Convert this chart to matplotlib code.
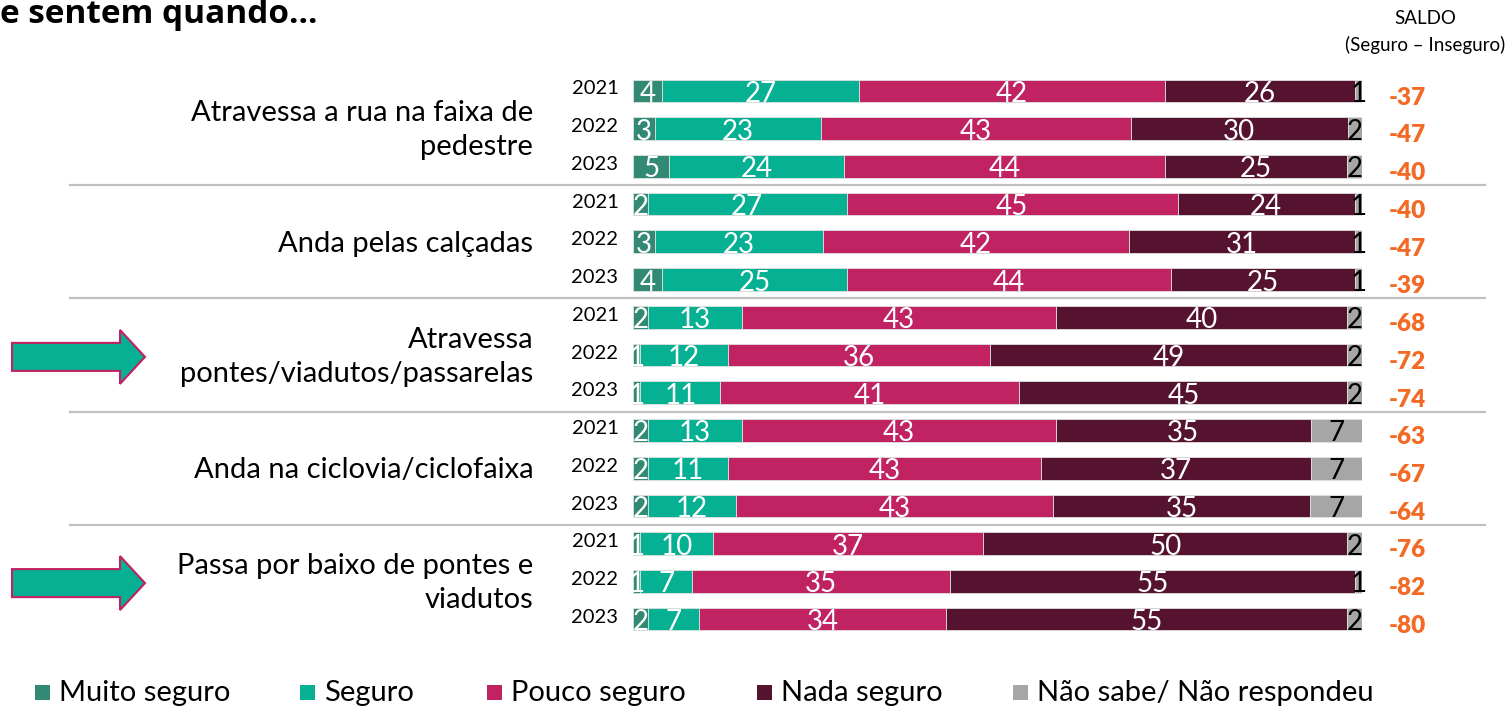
import matplotlib.pyplot as plt
import matplotlib.transforms as mtransforms
from matplotlib.patches import Polygon, Rectangle

plt.rcParams['font.family'] = ['Lato', 'DejaVu Sans']

# data
categories = ["Atravessa a rua na faixa de\npedestre",
              "Anda pelas calçadas",
              "Atravessa\npontes/viadutos/passarelas",
              "Anda na ciclovia/ciclofaixa",
              "Passa por baixo de pontes e\nviadutos"]
years = ["2021", "2022", "2023"]
series = ["Muito seguro", "Seguro", "Pouco seguro", "Nada seguro",
          "Não sabe/ Não respondeu"]
muito_seguro = [4, 3, 5, 2, 3, 4, 2, 1, 1, 2, 2, 2, 1, 1, 2]
seguro = [27, 23, 24, 27, 23, 25, 13, 12, 11, 13, 11, 12, 10, 7, 7]
pouco_seguro = [42, 43, 44, 45, 42, 44, 43, 36, 41, 43, 43, 43, 37, 35, 34]
nada_seguro = [26, 30, 25, 24, 31, 25, 40, 49, 45, 35, 37, 35, 50, 55, 55]
nao_sabe = [1, 2, 2, 1, 1, 1, 2, 2, 2, 7, 7, 7, 2, 1, 2]
saldo = [-37, -47, -40, -40, -47, -39, -68, -72, -74, -63, -67, -64,
         -76, -82, -80]
highlighted = [2, 4]  # groups marked with an arrow

colors = ['#338A74', '#05B093', '#C02262', '#561330', '#A6A6A6']
label_colors = ['white', 'white', 'white', 'white', 'black']
W, H = 1507, 708

fig = plt.figure(figsize=(W / 100, H / 100), dpi=100)
ax = fig.add_axes([633 / W, 1 - 638 / H, 729 / W, (638 - 72) / H])
ax.set_xlim(0, 100)
ax.set_ylim(14.5, -0.5)
ax.axis('off')

all_series = [muito_seguro, seguro, pouco_seguro, nada_seguro, nao_sabe]
rows = list(range(len(saldo)))
totals = [sum(s[r] for s in all_series) for r in rows]

# 100% stacked bars, labelled with the rounded percentages
left = [0] * len(rows)
for vals, col, lcol in zip(all_series, colors, label_colors):
    widths = [v * 100 / t for v, t in zip(vals, totals)]
    ax.barh(rows, widths, left=left, height=0.6, color=col,
            edgecolor='#E0E0E0', linewidth=0.6)
    for r in rows:
        ax.text(left[r] + widths[r] / 2, r + 0.08, str(vals[r]),
                ha='center', va='center', color=lcol, fontsize=20)
    left = [a + b for a, b in zip(left, widths)]

for r in rows:
    ax.text(-2, r - 0.05, years[r % 3], ha='right', va='center',
            fontsize=14.5)
    ax.text(106.2, r + 0.18, str(saldo[r]), ha='center', va='center',
            fontsize=17.5, fontweight='heavy', color='#F26A25')

for g, cat in enumerate(categories):
    ax.text(-13.7, 3 * g + 1.05, cat, ha='right', va='center', fontsize=21,
            linespacing=1.38, clip_on=False)

# separators between groups
trans = mtransforms.blended_transform_factory(fig.transFigure, ax.transData)
for g in range(1, len(categories)):
    ax.plot([70 / W, 1485 / W], [3 * g - 0.5] * 2, transform=trans,
            color='#C0C0C0', lw=1.6, clip_on=False)

# arrows
for g in highlighted:
    yc = 91 + 37.7 * (3 * g + 1) + 2
    pts = [(12, yc - 14), (120, yc - 14), (120, yc - 27), (145, yc),
           (120, yc + 27), (120, yc + 14), (12, yc + 14)]
    fig.patches.append(Polygon([(x / W, 1 - y / H) for x, y in pts],
                               closed=True, facecolor='#05B093',
                               edgecolor='#C02262', lw=1.5,
                               transform=fig.transFigure))

# title and saldo header
fig.text(0, 1 - 23 / H, "e sentem quando...", fontsize=24,
         fontweight='bold', family=['Open Sans', 'DejaVu Sans'],
         va='baseline')
fig.text(1425 / W, 1 - 18 / H, "SALDO", ha='center', va='center',
         fontsize=13.5)
fig.text(1425 / W, 1 - 45 / H, "(Seguro – Inseguro)", ha='center',
         va='center', fontsize=13.5)

# legend
leg_x = [35, 300, 487, 757, 1013]
for x, name, col in zip(leg_x, series, colors):
    fig.patches.append(Rectangle((x / W, 1 - 700 / H), 15 / W, 15 / H,
                                 facecolor=col, transform=fig.transFigure))
    fig.text((x + 24) / W, 1 - 693 / H, name, va='center', fontsize=21)

fig.savefig('out.png', dpi=100)
